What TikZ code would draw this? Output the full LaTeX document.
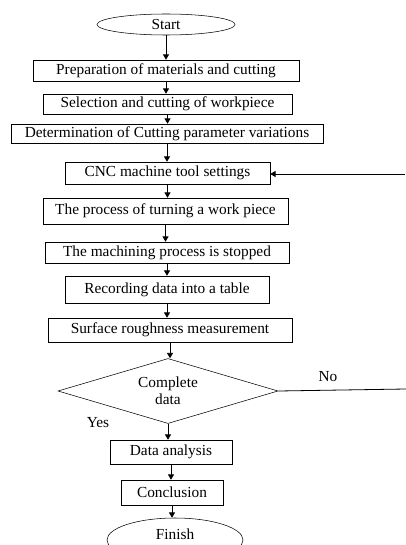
\documentclass[tikz,border=0pt]{standalone}
\usepackage{fontspec}
\setmainfont{Liberation Serif}
\usetikzlibrary{shapes.geometric, arrows.meta}

\tikzset{
  stepbox/.style={draw, rectangle, inner sep=0pt, font=\fontsize{11.5}{13}\selectfont},
  endbox/.style={draw, ellipse, inner sep=0pt, font=\fontsize{11.5}{13}\selectfont},
  askbox/.style={draw, diamond, inner sep=0pt, align=center, font=\fontsize{11.5}{13}\selectfont},
  arr/.style={-{Triangle[length=4pt,width=4.5pt]}, line width=0.6pt},
  link/.style={line width=0.6pt}
}

\begin{document}
\begin{tikzpicture}[x=0.75pt, y=-0.75pt]
  \useasboundingbox (0,0) rectangle (406,545);

  % Start and steps
  \node[endbox, minimum width=103.5pt, minimum height=15.75pt] (start) at (166,24.5) {Start};
  \node[stepbox, minimum width=199.5pt, minimum height=15.75pt] (prep) at (166,70.5) {Preparation of materials and cutting};
  \node[stepbox, minimum width=186.75pt, minimum height=15pt] (select) at (167.5,104) {Selection and cutting of workpiece};
  \node[stepbox, minimum width=234pt, minimum height=14.25pt] (param) at (167,133.5) {Determination of Cutting parameter variations};
  \node[stepbox, minimum width=153.75pt, minimum height=16.5pt] (cnc) at (167.5,173) {CNC machine tool settings};
  \node[stepbox, minimum width=183.75pt, minimum height=19.5pt] (turn) at (165.5,211) {The process of turning a work piece};
  \node[stepbox, minimum width=183pt, minimum height=15.75pt] (stop) at (167,252.5) {The machining process is stopped};
  \node[stepbox, minimum width=153pt, minimum height=20.25pt] (record) at (167,289.5) {Recording data into a table};
  \node[stepbox, minimum width=183pt, minimum height=18pt] (rough) at (170,330) {Surface roughness measurement};

  % Decision
  \node[askbox, minimum width=165pt, minimum height=48.75pt, aspect=3.4] (check) at (168,391) {Complete\\data};
  \node (no) at (328,377) {\fontsize{11.5}{13}\selectfont No};
  \node (yes) at (98,423) {\fontsize{11.5}{13}\selectfont Yes};

  % End part
  \node[stepbox, minimum width=91.5pt, minimum height=18pt] (anal) at (171,452) {Data analysis};
  \node[stepbox, minimum width=76.5pt, minimum height=18.75pt] (concl) at (172,492.5) {Conclusion};
  \node[endbox, minimum width=102pt, minimum height=33pt, text depth=8pt] (finish) at (175,540) {Finish};

  % Loop back (cut off at the right edge)
  \coordinate (back1) at (405,174);
  \coordinate (back2) at (406,389);

  % Arrows
  \draw[arr] (start) -- (start |- prep.north);
  \draw[arr] (prep) -- (prep |- select.north);
  \draw[arr] (select) -- (select |- param.north);
  \draw[arr] (param) -- (param |- cnc.north);
  \draw[arr] (cnc) -- (cnc |- turn.north);
  \draw[arr] (turn) -- (turn |- stop.north);
  \draw[arr] (stop) -- (stop |- record.north);
  \draw[arr] (record) -- (record |- rough.north);
  \draw[arr] (rough) -- (rough |- check.north);
  \draw[arr] (check.south) -- (check.south |- anal.north);
  \draw[arr] (anal) -- (anal |- concl.north);
  \draw[arr] (concl) -- (concl |- finish.north);
  \draw[link] (check.east) -- (back2);
  \draw[arr] (back1) -- (back1 -| cnc.east);
\end{tikzpicture}
\end{document}
